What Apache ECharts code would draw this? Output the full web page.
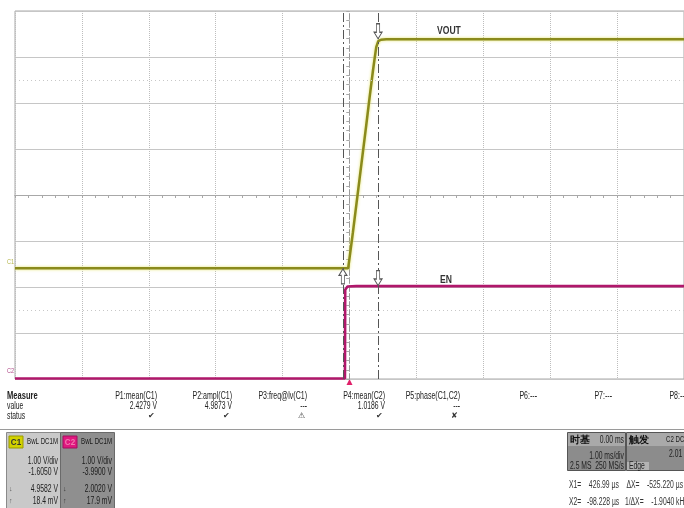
<!DOCTYPE html>
<html><head><meta charset="utf-8">
<script src="https://cdn.jsdelivr.net/npm/echarts@6.0.0/dist/echarts.min.js"></script>
<style>html,body{margin:0;padding:0;background:#fff}#c{width:684px;height:508px}</style>
</head><body><div id="c"></div><script>
// ---- data (time in ms, voltages in V) ----
const voutTime  = [-5, -0.02, 0.05, 0.15, 0.25, 0.30, 0.35, 0.38, 0.40, 0.43, 0.47, 0.55, 5];
const voutVolts = [0.01, 0.01, 0.78, 1.95, 3.12, 3.72, 4.30, 4.62, 4.82, 4.95, 4.98, 4.99, 4.99];
const enTime  = [-5, -0.068, -0.064, -0.03, 0.1, 5];
const enVolts = [0.0, 0.0, 1.93, 2.0, 2.01, 2.01];
const c1Offset = -1.605, c2Offset = -3.99, voltsPerDiv = 1;
const cursorX1 = 0.42699, cursorX2 = -0.098228;
const measureHeaders = ['P1:mean(C1)','P2:ampl(C1)','P3:freq@lv(C1)','P4:mean(C2)','P5:phase(C1,C2)','P6:---','P7:---','P8:---'];
const measureValues  = ['2.4279 V','4.9873 V','---','1.0186 V','---','','',''];
const measureStatus  = ['✔','✔','⚠','✔','✘','','',''];
const c1Info = ['BwL DC1M','1.00 V/div','-1.6050 V','4.9582 V','18.4 mV'];
const c2Info = ['BwL DC1M','1.00 V/div','-3.9900 V','2.0020 V','17.9 mV'];

const chart = echarts.init(document.getElementById('c'), null, {renderer:'canvas'});
const pair = (t, v) => t.map((x, i) => [x, v[i]]);
const FONT = '"Liberation Sans", Arial, sans-serif';
function txt(x, y, s, o) {
  o = o || {};
  return {type:'text', x:x, y:y, scaleX:(o.sx == null ? 0.68 : o.sx), silent:true, z:10,
    style:{text:s, x:0, y:0, align:o.align||'left', verticalAlign:'middle',
      font:(o.bold?'bold ':'') + (o.size||10) + 'px ' + FONT, fill:o.color||'#222'}};
}
function rect(x, y, w, h, fill, stroke) {
  return {type:'rect', silent:true, z:5, shape:{x:x, y:y, width:w, height:h},
    style:{fill:fill, stroke:stroke||null, lineWidth:1}};
}
const downArrow = 'path://M3,0L7,0L7,9L10,9L5,16L0,9L3,9Z';
const upArrow = 'path://M5,0L10,7L7,7L7,16L3,16L3,7L0,7Z';
const arrowStyle = {color:'#fff', borderColor:'#555', borderWidth:1};

const xBase = {type:'value', min:-5, max:5, interval:1, axisLabel:{show:false}};
const option = {
  animation:false,
  backgroundColor:'#fff',
  grid:{left:15, top:11, width:670, height:368, show:true, borderColor:'#a8a8a8', borderWidth:1, containLabel:false},
  xAxis:[
    Object.assign({}, xBase, {
      splitLine:{show:true, lineStyle:{color:'#bdbdbd', type:[1,1], width:1}},
      axisLine:{show:true, onZero:true, onZeroAxisIndex:0, lineStyle:{color:'#a8a8a8'}},
      axisTick:{show:true, inside:false, length:3, lineStyle:{color:'#a8a8a8'}},
      minorTick:{show:true, splitNumber:5, length:3, lineStyle:{color:'#a8a8a8'}}
    }),
    Object.assign({}, xBase, {
      splitLine:{show:false},
      axisLine:{show:true, onZero:true, onZeroAxisIndex:0, lineStyle:{color:'#a8a8a8'}},
      axisTick:{show:true, inside:true, length:3, lineStyle:{color:'#a8a8a8'}},
      minorTick:{show:true, splitNumber:5, length:3, lineStyle:{color:'#a8a8a8'}}
    })
  ],
  yAxis:[
    {type:'value', min:-4, max:4, interval:1, axisLabel:{show:false},
      splitLine:{show:true, lineStyle:{color:'#c6c6c6', width:1}},
      axisLine:{show:true, onZero:true, onZeroAxisIndex:0, lineStyle:{color:'#9a9a9a', type:[5,3]}},
      axisTick:{show:true, inside:false, length:3, lineStyle:{color:'#a8a8a8'}},
      minorTick:{show:true, splitNumber:5, length:3, lineStyle:{color:'#a8a8a8'}}},
    {type:'value', show:false, min:-4*voltsPerDiv - c1Offset, max:4*voltsPerDiv - c1Offset, splitLine:{show:false}},
    {type:'value', show:false, min:-4*voltsPerDiv - c2Offset, max:4*voltsPerDiv - c2Offset, splitLine:{show:false}},
    {type:'value', min:-4, max:4, interval:1, axisLabel:{show:false}, splitLine:{show:false},
      axisLine:{show:false, onZero:true, onZeroAxisIndex:0},
      axisTick:{show:true, inside:true, length:3, lineStyle:{color:'#a8a8a8'}},
      minorTick:{show:true, splitNumber:5, length:3, lineStyle:{color:'#a8a8a8'}}}
  ],
  series:[
    {type:'line', name:'grid', xAxisIndex:0, yAxisIndex:0, data:[], silent:true,
      markLine:{silent:true, symbol:'none', label:{show:false},
        lineStyle:{color:'#c8c8c8', type:[1,3], width:1},
        data:[{yAxis:2.5},{yAxis:-2.5}]}},
    {type:'line', name:'EN', xAxisIndex:0, yAxisIndex:2, data:pair(enTime, enVolts),
      symbol:'none', lineStyle:{color:'#b0176b', width:2.6}, z:3,
      markPoint:{symbol:downArrow, symbolSize:[8,15], symbolOffset:[0,-8], itemStyle:arrowStyle, label:{show:false},
        data:[{coord:[cursorX1, enVolts[enVolts.length-1]]}]}},
    {type:'line', name:'VOUT', xAxisIndex:0, yAxisIndex:1, data:pair(voutTime, voutVolts),
      symbol:'none', lineStyle:{color:'#8a8a1c', width:2.5, shadowBlur:3, shadowColor:'rgba(225,225,90,0.9)'}, z:4,
      markLine:{silent:true, symbol:'none', label:{show:false},
        lineStyle:{color:'#555', type:[9,3,2,3], width:1},
        data:[{xAxis:cursorX1},{xAxis:cursorX2}]},
      markPoint:{itemStyle:arrowStyle, label:{show:false}, symbolSize:[8,15],
        data:[{coord:[cursorX1, voutVolts[voutVolts.length-1]], symbol:downArrow, symbolOffset:[0,-8]},
              {coord:[cursorX2, voutVolts[0]], symbol:upArrow, symbolOffset:[0,8]}]}}
  ]
};
chart.setOption(option);

// ---- decorations / readouts ----
const g = [];
g.push(txt(437, 31, 'VOUT', {bold:true, size:11, color:'#333', sx:0.78}));
g.push(txt(440, 280, 'EN', {bold:true, size:11, color:'#333', sx:0.78}));
const c1Zero = chart.convertToPixel({yAxisIndex:1}, 0);
const c2Zero = chart.convertToPixel({yAxisIndex:2}, 0);
const trigX = chart.convertToPixel({xAxisIndex:0}, 0);
g.push(txt(7, c1Zero - 7, 'C1', {size:7, color:'#b5b54a', sx:0.8}));
g.push(txt(7, c2Zero - 7, 'C2', {size:7, color:'#b04a88', sx:0.8}));
g.push({type:'polygon', silent:true, shape:{points:[[trigX-3,385],[trigX+3,385],[trigX,379]]}, style:{fill:'#e0206a'}});

// measurement table
const colRight = [157, 232, 307, 385, 460, 537, 612, 687];
const rowY = [396, 406, 416];
g.push(txt(7, rowY[0], 'Measure', {bold:true, size:10.5, sx:0.72}));
g.push(txt(7, rowY[1], 'value', {size:10}));
g.push(txt(7, rowY[2], 'status', {size:10}));
measureHeaders.forEach((h, i) => {
  g.push(txt(colRight[i], rowY[0], h, {align:'right', size:10.5, sx:0.67}));
  if (measureValues[i]) g.push(txt(colRight[i], rowY[1], measureValues[i], {align:'right', size:10}));
  if (measureStatus[i]) g.push(txt(colRight[i]-2, rowY[2], measureStatus[i], {align:'right', size:8, color:'#333', sx:1}));
});
g.push({type:'line', silent:true, shape:{x1:0, y1:429.5, x2:684, y2:429.5}, style:{stroke:'#9a9a9a', lineWidth:1}});

// channel boxes
g.push(rect(6.5, 432.5, 54, 80, '#c9c9c9', '#8a8a8a'));
g.push(rect(60.5, 432.5, 54, 80, '#8f8f8f', '#6a6a6a'));
g.push(rect(9, 436, 14, 12, '#d2d200', '#9a9a00'));
g.push(rect(63, 436, 14, 12, '#e0187f', '#a01060'));
g.push(txt(16, 442, 'C1', {align:'center', bold:true, size:9.5, color:'#333', sx:0.85}));
g.push(txt(70, 442, 'C2', {align:'center', bold:true, size:9.5, color:'#f07ab0', sx:0.85}));
const infoY = [442, 461, 472, 489, 501];
c1Info.forEach((s, i) => g.push(txt(58, infoY[i], s, {align:'right', size: i === 0 ? 9 : 10, sx:0.68, color:'#222'})));
c2Info.forEach((s, i) => g.push(txt(112, infoY[i], s, {align:'right', size: i === 0 ? 9 : 10, sx:0.68, color:'#1a1a1a'})));
g.push(txt(9, 489, '↓', {size:7, color:'#555', sx:1}));
g.push(txt(9, 501, '↑', {size:7, color:'#555', sx:1}));
g.push(txt(63, 489, '↓', {size:7, color:'#333', sx:1}));
g.push(txt(63, 501, '↑', {size:7, color:'#333', sx:1}));

// timebase / trigger boxes
g.push(rect(567.5, 432.5, 58, 38, '#8c8c8c', '#555'));
g.push(rect(568, 433, 57, 13, '#a9a9a9', null));
g.push(rect(626.5, 432.5, 60, 38, '#8c8c8c', '#555'));
g.push(rect(627, 433, 59, 13, '#a9a9a9', null));
g.push(rect(627, 462, 22, 8, '#b3b3b3', null));
g.push(txt(570, 440, '时基', {bold:true, size:10, color:'#111', sx:1}));
g.push(txt(624, 440, '0.00 ms', {align:'right', size:10}));
g.push(txt(624, 456, '1.00 ms/div', {align:'right', size:10}));
g.push(txt(570, 466, '2.5 MS', {size:10}));
g.push(txt(624, 466, '250 MS/s', {align:'right', size:10}));
g.push(txt(629, 440, '触发', {bold:true, size:10, color:'#111', sx:1}));
g.push(txt(666, 440, 'C2 DC', {size:9}));
g.push(txt(669, 454, '2.01 V', {size:10}));
g.push(txt(629, 466, 'Edge', {size:10}));
g.push(txt(569, 485, 'X1=    426.99 µs    ΔX=    -525.220 µs', {size:10, color:'#333'}));
g.push(txt(569, 502, 'X2=   -98.228 µs   1/ΔX=    -1.9040 kHz', {size:10, color:'#333'}));

chart.setOption({graphic:{elements:g}});
</script></body></html>
